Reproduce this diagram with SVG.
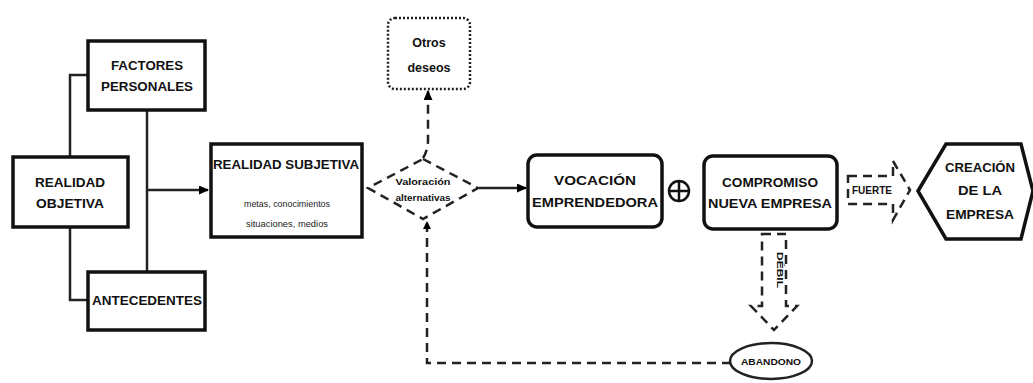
<svg xmlns="http://www.w3.org/2000/svg" width="1033" height="383" viewBox="0 0 1033 383">
<defs>
<marker id="ah" markerWidth="8" markerHeight="8" refX="7" refY="4" orient="auto" markerUnits="userSpaceOnUse"><path d="M0,0 L8,4 L0,8 Z" fill="#000"/></marker>
<marker id="ahs" markerWidth="10" markerHeight="9" refX="9" refY="4.5" orient="auto" markerUnits="userSpaceOnUse"><path d="M0,0 L10,4.5 L0,9 Z" fill="#000"/></marker>
</defs>
<style>
.t{font-family:"Liberation Sans",Arial,sans-serif;font-weight:bold;fill:#111;text-anchor:middle}
.s{font-family:"Liberation Sans",Arial,sans-serif;font-weight:normal;fill:#222;text-anchor:middle}
.box{fill:#fff;stroke:#111;stroke-width:3.5}
.ln{fill:none;stroke:#222;stroke-width:2.5}
.dash{fill:none;stroke:#222;stroke-width:2.5;stroke-dasharray:9,6}
</style>
<rect width="1033" height="383" fill="#fff"/>
<g id="connectors">
<path class="ln" d="M88,75 H70 V157"/>
<path class="ln" d="M70,227 V300 H88"/>
<path class="ln" d="M147,110 V272"/>
<path class="ln" d="M147,190 H208" stroke-width="3.5" marker-end="url(#ahs)"/>
<path class="ln" d="M479,188 H526" stroke-width="4" marker-end="url(#ahs)"/>
<path class="dash" d="M423,158 Q428,150 428,140 V91" stroke-width="3" marker-end="url(#ahs)"/>
<path class="dash" d="M731,363 H427 V222" marker-end="url(#ah)"/>
</g>
<g id="realidad-objetiva"><rect class="box" x="13" y="157" width="115" height="70"/>
<text class="t" x="70" y="187" font-size="12.5" textLength="70" lengthAdjust="spacingAndGlyphs">REALIDAD</text>
<text class="t" x="70" y="208" font-size="12.5" textLength="68" lengthAdjust="spacingAndGlyphs">OBJETIVA</text></g>
<g id="factores"><rect class="box" x="88" y="41" width="117" height="69"/>
<text class="t" x="147" y="70" font-size="12.5" textLength="72" lengthAdjust="spacingAndGlyphs">FACTORES</text>
<text class="t" x="147" y="91" font-size="12.5" textLength="92" lengthAdjust="spacingAndGlyphs">PERSONALES</text></g>
<g id="antecedentes"><rect class="box" x="88" y="272" width="117" height="58"/>
<text class="t" x="147" y="305" font-size="12.5" textLength="110" lengthAdjust="spacingAndGlyphs">ANTECEDENTES</text></g>
<g id="realidad-subjetiva"><rect class="box" x="211" y="144" width="151" height="93" stroke-width="4.5"/>
<text class="t" x="286" y="169" font-size="13" textLength="146" lengthAdjust="spacingAndGlyphs">REALIDAD SUBJETIVA</text>
<text class="s" x="287" y="207" font-size="9.5" textLength="86" lengthAdjust="spacingAndGlyphs">metas, conocimientos</text>
<text class="s" x="287" y="227" font-size="9.5" textLength="82" lengthAdjust="spacingAndGlyphs">situaciones, medios</text></g>
<g id="valoracion"><polygon class="dash" points="423,159 478,188 423,219 368,188" fill="#fff" stroke-dasharray="8,5"/>
<text class="t" x="423" y="185" font-size="9" textLength="55" lengthAdjust="spacingAndGlyphs">Valoración</text>
<text class="t" x="423" y="201" font-size="9" textLength="55" lengthAdjust="spacingAndGlyphs">alternativas</text></g>
<g id="otros-deseos"><rect x="388" y="18" width="82" height="71" rx="7" fill="#fff" stroke="#222" stroke-width="2.5" stroke-dasharray="2,2"/>
<text class="t" x="429" y="47" font-size="12.5">Otros</text>
<text class="t" x="429" y="72" font-size="12.5">deseos</text></g>
<g id="vocacion"><rect class="box" x="528" y="155" width="134" height="72" rx="9"/>
<text class="t" x="595" y="185" font-size="13" textLength="82" lengthAdjust="spacingAndGlyphs">VOCACIÓN</text>
<text class="t" x="595" y="207" font-size="13" textLength="126" lengthAdjust="spacingAndGlyphs">EMPRENDEDORA</text></g>
<g id="mas"><circle cx="679" cy="191" r="10" fill="#fff" stroke="#111" stroke-width="2.5"/><path d="M669,191 H689 M679,181 V201" stroke="#111" stroke-width="2.5"/></g>
<g id="compromiso"><rect class="box" x="704" y="156" width="133" height="73" rx="9"/>
<text class="t" x="770" y="187" font-size="13" textLength="96" lengthAdjust="spacingAndGlyphs">COMPROMISO</text>
<text class="t" x="770" y="208" font-size="13" textLength="124" lengthAdjust="spacingAndGlyphs">NUEVA EMPRESA</text></g>
<g id="fuerte"><polygon class="dash" points="848,176 893,176 893,161 910,190 893,220 893,204 848,204" fill="#fff" stroke-width="3" stroke-dasharray="10,6"/>
<text class="t" x="872" y="194" font-size="10" textLength="40" lengthAdjust="spacingAndGlyphs">FUERTE</text></g>
<g id="creacion"><polygon class="box" points="918,191 946,144 1021,144 1033,191 1021,239 946,239"/>
<text class="t" x="980" y="172" font-size="13" textLength="70" lengthAdjust="spacingAndGlyphs">CREACIÓN</text>
<text class="t" x="980" y="195" font-size="13" textLength="44" lengthAdjust="spacingAndGlyphs">DE LA</text>
<text class="t" x="980" y="219" font-size="13" textLength="68" lengthAdjust="spacingAndGlyphs">EMPRESA</text></g>
<g id="debil"><polygon class="dash" points="762,234 786,234 786,306 797,306 774,330 751,306 762,306" fill="#fff" stroke-width="3" stroke-dasharray="9,5"/>
<text class="t" font-size="9.5" transform="translate(777,270) rotate(90)" textLength="36" lengthAdjust="spacingAndGlyphs">DÉBIL</text></g>
<g id="abandono"><ellipse cx="771" cy="361" rx="41" ry="18" fill="#fff" stroke="#222" stroke-width="2.5"/>
<text class="t" x="771" y="365" font-size="9" textLength="60" lengthAdjust="spacingAndGlyphs">ABANDONO</text></g>
</svg>
